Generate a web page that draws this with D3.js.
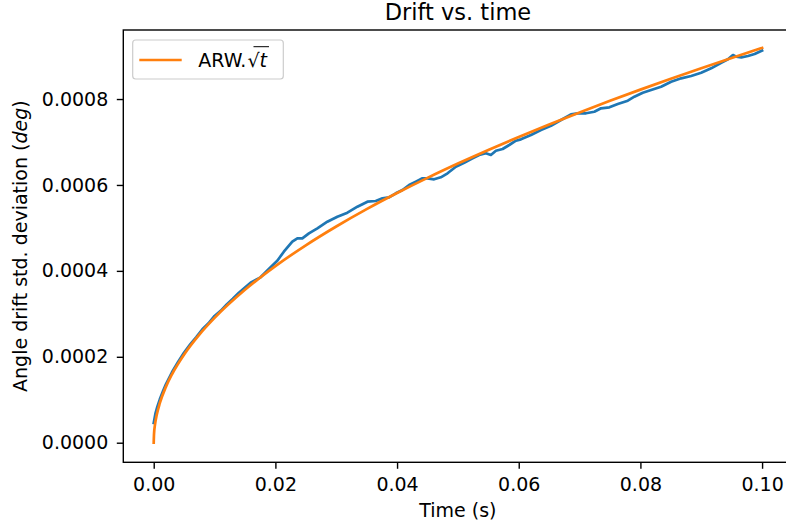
<!DOCTYPE html>
<html>
<head>
<meta charset="utf-8">
<script src="https://cdn.jsdelivr.net/npm/d3@7"></script>
<style>
  body { margin: 0; background: #fff; }
  text { font-family: "DejaVu Sans", sans-serif; fill: #000; }
</style>
</head>
<body>
<div id="chart"></div>
<script>
// measured drift (blue)
const driftT = [0, 0.0003, 0.0006, 0.001, 0.0015, 0.002, 0.003, 0.004, 0.005, 0.006, 0.007, 0.008, 0.009, 0.010,
  0.011, 0.012, 0.013, 0.014, 0.015, 0.01592, 0.01756, 0.01921, 0.02031, 0.02139, 0.02278, 0.02361, 0.02443,
  0.02551, 0.02690, 0.02854, 0.03019, 0.03184, 0.03348, 0.03513, 0.03649, 0.03760, 0.03868, 0.03979, 0.04089,
  0.04198, 0.04308, 0.04418, 0.04500, 0.04609, 0.04719, 0.04830, 0.04966, 0.05103, 0.05241, 0.05350, 0.05460,
  0.05542, 0.05625, 0.05735, 0.05844, 0.05954, 0.06036, 0.06201, 0.06365, 0.06530, 0.06695, 0.06859, 0.06969,
  0.07106, 0.07243, 0.07353, 0.07490, 0.07628, 0.07793, 0.07901, 0.08039, 0.08176, 0.08340, 0.08505, 0.08670,
  0.08834, 0.08999, 0.09163, 0.09328, 0.09439, 0.09521, 0.09575, 0.09658, 0.09768, 0.09877, 0.1];
const driftV = [0.0000460, 0.0000690, 0.0000840, 0.0001010, 0.0001190, 0.0001360, 0.0001640, 0.0001880, 0.0002100,
  0.0002290, 0.0002460, 0.0002640, 0.0002780, 0.0002950, 0.0003070, 0.0003220, 0.0003350, 0.0003490, 0.0003610,
  0.0003724, 0.0003850, 0.0004083, 0.0004237, 0.0004446, 0.0004679, 0.0004758, 0.0004758, 0.0004874, 0.0004991,
  0.0005144, 0.0005261, 0.0005354, 0.0005494, 0.0005610, 0.0005626, 0.0005689, 0.0005712, 0.0005805, 0.0005882,
  0.0005999, 0.0006075, 0.0006155, 0.0006155, 0.0006131, 0.0006178, 0.0006271, 0.0006425, 0.0006518, 0.0006620,
  0.0006697, 0.0006737, 0.0006697, 0.0006797, 0.0006837, 0.0006930, 0.0007030, 0.0007062, 0.0007163, 0.0007279,
  0.0007379, 0.0007512, 0.0007644, 0.0007668, 0.0007668, 0.0007705, 0.0007784, 0.0007807, 0.0007884, 0.0007961,
  0.0008054, 0.0008147, 0.0008210, 0.0008287, 0.0008403, 0.0008482, 0.0008536, 0.0008613, 0.0008715, 0.0008845,
  0.0008925, 0.0009025, 0.0008985, 0.0008971, 0.0009001, 0.0009048, 0.0009130];

// ARW.sqrt(t) curve (orange)
const arwT = [0, 0.00005, 0.0002, 0.0005, 0.001, 0.002, 0.003, 0.005, 0.0075, 0.01, 0.015, 0.02, 0.025, 0.03,
  0.035, 0.04, 0.045, 0.05, 0.055, 0.06, 0.065, 0.07, 0.075, 0.08, 0.085, 0.09, 0.095, 0.1];
const arwV = [0, 0.0000205, 0.0000411, 0.0000650, 0.0000919, 0.0001300, 0.0001592, 0.0002055, 0.0002517,
  0.0002906, 0.0003559, 0.0004110, 0.0004595, 0.0005033, 0.0005437, 0.0005812, 0.0006165, 0.0006498, 0.0006815,
  0.0007118, 0.0007409, 0.0007689, 0.0007958, 0.0008219, 0.0008472, 0.0008718, 0.0008957, 0.0009190];

const xTicks = [0, 0.02, 0.04, 0.06, 0.08, 0.10];
const yTicks = [0, 0.0002, 0.0004, 0.0006, 0.0008];

const W = 786, H = 529;
const m = {left: 123.3, right: 792.5, top: 30, bottom: 462.3};
const fs = 19;

const svg = d3.select("#chart").append("svg")
  .attr("width", W).attr("height", H);

const x = d3.scaleLinear([-0.005, 0.105], [m.left, m.right]);
const y = d3.scaleLinear([-0.0000456, 0.0009607], [m.bottom, m.top]);

const line = d3.line()
  .x(d => x(d[0]))
  .y(d => y(d[1]));

const blue = d3.zip(driftT, driftV);
const orange = d3.zip(arwT, arwV);

svg.append("path")
  .datum(blue)
  .attr("fill", "none")
  .attr("stroke", "#1f77b4")
  .attr("stroke-width", 2.7)
  .attr("stroke-linejoin", "round")
  .attr("stroke-linecap", "square")
  .attr("d", line);

svg.append("path")
  .datum(orange)
  .attr("fill", "none")
  .attr("stroke", "#ff7f0e")
  .attr("stroke-width", 2.7)
  .attr("stroke-linejoin", "round")
  .attr("stroke-linecap", "square")
  .attr("d", line.curve(d3.curveMonotoneX));

// axes
const xAxis = svg.append("g")
  .attr("transform", `translate(0,${m.bottom})`)
  .call(d3.axisBottom(x).tickValues(xTicks).tickFormat(d3.format(".2f")).tickSize(6.5).tickPadding(9));
const yAxis = svg.append("g")
  .attr("transform", `translate(${m.left},0)`)
  .call(d3.axisLeft(y).tickValues(yTicks).tickFormat(d3.format(".4f")).tickSize(6.5).tickPadding(8.5));

[xAxis, yAxis].forEach(g => {
  g.select(".domain").remove();
  g.selectAll("line").attr("stroke", "#000").attr("stroke-width", 1.4);
  g.selectAll("text").attr("font-size", fs).attr("font-family", "DejaVu Sans").attr("fill", "#000");
});

// spines
svg.append("rect")
  .attr("x", m.left).attr("y", m.top)
  .attr("width", m.right - m.left).attr("height", m.bottom - m.top)
  .attr("fill", "none").attr("stroke", "#000").attr("stroke-width", 1.4);

// title + labels
svg.append("text")
  .attr("x", (m.left + m.right) / 2).attr("y", 20)
  .attr("text-anchor", "middle").attr("font-size", 22.5)
  .text("Drift vs. time");

svg.append("text")
  .attr("x", (m.left + m.right) / 2).attr("y", 517)
  .attr("text-anchor", "middle").attr("font-size", fs)
  .text("Time (s)");

const yl = svg.append("text")
  .attr("transform", `translate(27,${(m.top + m.bottom) / 2}) rotate(-90)`)
  .attr("text-anchor", "middle").attr("font-size", fs);
yl.append("tspan").text("Angle drift std. deviation (");
yl.append("tspan").attr("font-style", "italic").text("deg");
yl.append("tspan").text(")");

// legend
const lg = svg.append("g");
lg.append("rect")
  .attr("x", 132.7).attr("y", 40).attr("width", 150.6).attr("height", 39)
  .attr("rx", 3).attr("fill", "#fff").attr("fill-opacity", 0.8)
  .attr("stroke", "#cccccc").attr("stroke-width", 1.2);
lg.append("line")
  .attr("x1", 139.3).attr("x2", 181.7).attr("y1", 60).attr("y2", 60)
  .attr("stroke", "#ff7f0e").attr("stroke-width", 2.7);
const lt = lg.append("text")
  .attr("x", 198.3).attr("y", 66.5).attr("font-size", fs);
lt.append("tspan").text("ARW.");
lt.append("tspan").attr("dx", 1).text("√");
lt.append("tspan").attr("font-style", "italic").text("t");
// overbar of the radical
const bb = lt.node().getBBox();
const rootEnd = bb.x + bb.width;
lg.append("line")
  .attr("x1", rootEnd - 15).attr("x2", rootEnd + 0.5)
  .attr("y1", 46.7).attr("y2", 46.7)
  .attr("stroke", "#000").attr("stroke-width", 1);
</script>
</body>
</html>
